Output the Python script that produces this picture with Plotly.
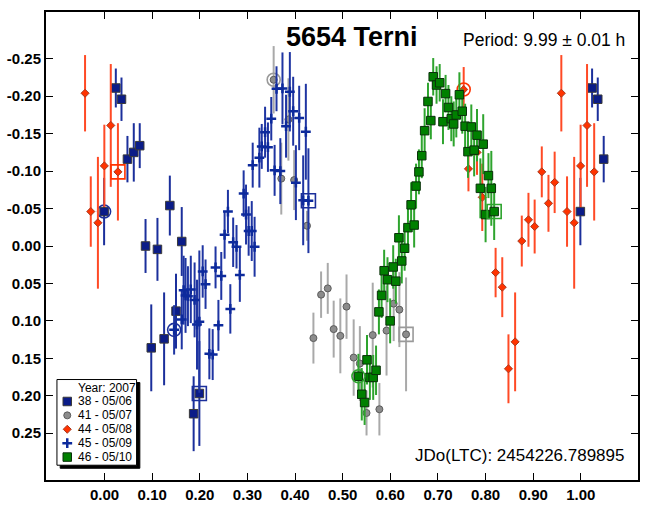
import plotly.graph_objects as go

# ---------------- data (phase, reduced magnitude, error) ----------------
# first entry of each session = first point of the night (circled), last = last point (boxed)
s38_phase = [-0.001, 0.0236, 0.0355, 0.048, 0.0613, 0.0738, 0.086, 0.098, 0.111, 0.125, 0.137, 0.150, 0.162, 0.187, 0.199]
s38_mag   = [-0.046, -0.211, -0.196, -0.116, -0.125, -0.134, 0.000, 0.136, 0.0045, 0.124, -0.054, 0.087, -0.006, 0.224, 0.197]
s38_err   = [0.045, 0.026, 0.029, 0.031, 0.039, 0.030, 0.036, 0.058, 0.042, 0.062, 0.040, 0.050, 0.046, 0.050, 0.070]

s41_phase = [0.355, 0.371, 0.386, 0.398, 0.425, 0.4385, 0.4546, 0.4686, 0.481, 0.495, 0.508, 0.523, 0.536, 0.550, 0.563, 0.577, 0.592, 0.607, 0.619, 0.633]
s41_mag   = [-0.222, -0.090, -0.169, -0.088, -0.027, 0.123, 0.065, 0.0566, 0.111, 0.120, 0.081, 0.149, 0.157, 0.223, 0.119, 0.218, 0.113, 0.077, 0.085, 0.118]
s41_err   = [0.045, 0.048, 0.055, 0.040, 0.020, 0.034, 0.031, 0.034, 0.038, 0.050, 0.043, 0.051, 0.050, 0.030, 0.070, 0.035, 0.060, 0.050, 0.050, 0.076]

s44_phase = [0.754, 0.764, 0.782, 0.793, 0.821, 0.835, 0.848, 0.862, 0.876, 0.890, 0.903, 0.918, 0.932, 0.945, 0.959, 0.971, 0.986, 0.9995, 0.013, 0.028]
s44_mag   = [-0.209, -0.103, -0.125, -0.065, 0.0355, 0.055, 0.164, 0.128, -0.0066, -0.035, -0.026, -0.099, -0.057, -0.085, -0.204, -0.046, -0.031, -0.107, -0.161, -0.099]
s44_err   = [0.030, 0.030, 0.030, 0.045, 0.033, 0.040, 0.046, 0.066, 0.034, 0.036, 0.036, 0.034, 0.038, 0.041, 0.051, 0.047, 0.088, 0.055, 0.082, 0.065]

s45_phase = [0.146, 0.162, 0.166, 0.170, 0.175, 0.181, 0.189, 0.194, 0.199, 0.206, 0.212, 0.220, 0.227, 0.233, 0.239, 0.245,
             0.252, 0.259, 0.264, 0.270, 0.277, 0.284, 0.292, 0.297, 0.3025, 0.309, 0.311, 0.315, 0.325, 0.330, 0.337,
             0.343, 0.350, 0.357, 0.361, 0.369, 0.3735, 0.381, 0.389, 0.396, 0.4017, 0.4086, 0.417, 0.4226, 0.428]
s45_mag   = [0.112, 0.098, 0.059, 0.066, 0.067, 0.058, 0.072, 0.105, 0.101, 0.034, 0.051, 0.144, 0.145, 0.0286, 0.106, 0.040,
             -0.015, -0.046, 0.084, -0.005, 0.001, 0.0386, -0.070, -0.042, -0.020, -0.020, -0.108, 0.001, -0.118, -0.133, -0.152,
             -0.132, -0.170, -0.101, -0.210, -0.100, -0.2105, -0.160, -0.206, -0.180, -0.0846, -0.171, -0.061, -0.1526, -0.0605]
s45_err   = [0.033, 0.040, 0.046, 0.050, 0.040, 0.045, 0.050, 0.060, 0.095, 0.035, 0.033, 0.034, 0.034, 0.028, 0.034, 0.032,
             0.032, 0.029, 0.033, 0.033, 0.029, 0.036, 0.031, 0.040, 0.033, 0.040, 0.030, 0.040, 0.040, 0.030, 0.034,
             0.033, 0.029, 0.034, 0.030, 0.044, 0.048, 0.042, 0.053, 0.046, 0.050, 0.043, 0.060, 0.064, 0.070]

s46_phase = [0.533, 0.540, 0.546, 0.551, 0.557, 0.564, 0.570, 0.576, 0.5816, 0.587, 0.594, 0.5996, 0.606, 0.6115, 0.618, 0.624,
             0.630, 0.637, 0.6436, 0.650, 0.654, 0.660, 0.666, 0.672, 0.679, 0.685, 0.690, 0.697, 0.7036, 0.7105, 0.716,
             0.722, 0.728, 0.733, 0.7385, 0.745, 0.751, 0.757, 0.763, 0.770, 0.776, 0.782, 0.789, 0.795, 0.800, 0.806, 0.812, 0.818]
s46_mag   = [0.174, 0.198, 0.209, 0.152, 0.1755, 0.1755, 0.166, 0.088, 0.066, 0.033, 0.045, 0.100, 0.028, 0.047, -0.011, 0.020,
             0.003, -0.0245, -0.055, -0.028, -0.080, -0.099, -0.1206, -0.154, -0.193, -0.1675, -0.226, -0.215, -0.218, -0.166, -0.2035,
             -0.185, -0.170, -0.163, -0.175, -0.202, -0.180, -0.160, -0.126, -0.159, -0.128, -0.148, -0.077, -0.136, -0.042, -0.094, -0.077, -0.046]
s46_err   = [0.030, 0.035, 0.030, 0.033, 0.030, 0.030, 0.033, 0.030, 0.030, 0.028, 0.030, 0.030, 0.029, 0.030, 0.030, 0.030,
             0.030, 0.030, 0.030, 0.030, 0.030, 0.030, 0.030, 0.030, 0.025, 0.025, 0.025, 0.025, 0.025, 0.030, 0.025,
             0.030, 0.030, 0.030, 0.030, 0.030, 0.030, 0.030, 0.035, 0.030, 0.035, 0.035, 0.040, 0.040, 0.037, 0.030, 0.050, 0.038]

legend_labels = ["38 - 05/06", "41 - 05/07", "44 - 05/08", "45 - 05/09", "46 - 05/10"]
legend_title = "Year: 2007"
x_tickvals = [0.0, 0.1, 0.2, 0.3, 0.4, 0.5, 0.6, 0.7, 0.8, 0.9, 1.0]
x_ticktext = ["0.00", "0.10", "0.20", "0.30", "0.40", "0.50", "0.60", "0.70", "0.80", "0.90", "1.00"]
y_tickvals = [-0.25, -0.20, -0.15, -0.10, -0.05, 0.0, 0.05, 0.10, 0.15, 0.20, 0.25]
y_ticktext = ["-0.25", "-0.20", "-0.15", "-0.10", "-0.05", "0.00", "0.05", "0.10", "0.15", "0.20", "0.25"]
title_text = "5654 Terni"
period_text = "Period: 9.99 ± 0.01 h"
epoch_text = "JDo(LTC): 2454226.789895"

# ---------------- styles ----------------
FONT = "Liberation Sans, Arial, sans-serif"
styles = [
    dict(symbol="square", size=8.5, color="#0b1c88", line=dict(color="#3a3a3a", width=1), err="#1b2f9b", ring="#1b2f9b"),
    dict(symbol="circle", size=7, color="#8c8c8c", line=dict(color="#5c5c5c", width=1), err="#a9a9a9", ring="#9a9a9a"),
    dict(symbol="diamond", size=6.2, color="#ff3300", line=dict(color="#a83a20", width=1), err="#ff4a25", ring="#ff3300"),
    dict(symbol="cross-thin", size=7, color="#0d2a9c", line=dict(color="#0d2a9c", width=2.5), err="#1f35a2", ring="#1b2f9b"),
    dict(symbol="square", size=8.5, color="#008000", line=dict(color="#0a300a", width=1), err="#2ea42e", ring="#2ea42e"),
]
series = [(s38_phase, s38_mag, s38_err), (s41_phase, s41_mag, s41_err), (s44_phase, s44_mag, s44_err),
          (s45_phase, s45_mag, s45_err), (s46_phase, s46_mag, s46_err)]


def wrap(ph, mg, er):
    xs, ys, es = list(ph), list(mg), list(er)
    for p, m, e in zip(ph, mg, er):
        if p < 0.05:
            xs.append(p + 1); ys.append(m); es.append(e)
        elif p > 0.95:
            xs.append(p - 1); ys.append(m); es.append(e)
    return xs, ys, es


fig = go.Figure()
for (ph, mg, er), st in zip(series, styles):
    xs, ys, es = wrap(ph, mg, er)
    fig.add_trace(go.Scatter(
        x=xs, y=ys, mode="markers", showlegend=False,
        marker=dict(symbol=st["symbol"], size=st["size"], color=st["color"], line=st["line"]),
        error_y=dict(type="data", array=es, visible=True, color=st["err"], thickness=2, width=0),
    ))
    # start-of-session circle and end-of-session square
    fig.add_trace(go.Scatter(x=[ph[0]], y=[mg[0]], mode="markers", showlegend=False,
                             marker=dict(symbol="circle-open", size=13, color=st["ring"], line=dict(width=1.6))))
    fig.add_trace(go.Scatter(x=[ph[-1]], y=[mg[-1]], mode="markers", showlegend=False,
                             marker=dict(symbol="square-open", size=14, color=st["ring"], line=dict(width=1.6))))

# ---------------- hand-made legend box ----------------
box_x0, box_x1, box_y0, box_y1 = 0.0185, 0.153, 0.0316, 0.2147   # paper fractions of plot area
shadow_dx, shadow_dy = 0.0055, 0.0065
row_top, row_step = 0.1678, 0.0297
marker_x, text_x = 0.0359, 0.0500

fig.add_shape(type="rect", xref="paper", yref="paper", layer="below",
              x0=box_x0 + shadow_dx, x1=box_x1 + shadow_dx, y0=box_y0 - shadow_dy, y1=box_y1 - shadow_dy,
              fillcolor="black", line=dict(color="black", width=1))
fig.add_shape(type="rect", xref="paper", yref="paper", layer="below",
              x0=box_x0, x1=box_x1, y0=box_y0, y1=box_y1,
              fillcolor="white", line=dict(color="black", width=1))
fig.add_annotation(xref="paper", yref="paper", x=text_x, y=row_top + row_step, text=legend_title,
                   showarrow=False, xanchor="left", yanchor="middle",
                   font=dict(family=FONT, size=12, color="black"))
for i, (lab, st) in enumerate(zip(legend_labels, styles)):
    yy = row_top - i * row_step
    fig.add_trace(go.Scatter(x=[marker_x], y=[yy], xaxis="x2", yaxis="y2", mode="markers", showlegend=False,
                             marker=dict(symbol=st["symbol"], size=st["size"], color=st["color"], line=st["line"])))
    fig.add_annotation(xref="paper", yref="paper", x=text_x, y=yy, text=lab, showarrow=False,
                       xanchor="left", yanchor="middle", font=dict(family=FONT, size=12, color="black"))

# ---------------- texts ----------------
fig.add_annotation(xref="paper", yref="paper", x=0.517, y=0.947, text="<b>%s</b>" % title_text, showarrow=False,
                   xanchor="center", yanchor="middle", font=dict(family=FONT, size=27, color="black"))
fig.add_annotation(xref="paper", yref="paper", x=0.981, y=0.941, text=period_text, showarrow=False,
                   xanchor="right", yanchor="middle", font=dict(family=FONT, size=17.5, color="black"))
fig.add_annotation(xref="paper", yref="paper", x=0.981, y=0.053, text=epoch_text, showarrow=False,
                   xanchor="right", yanchor="middle", font=dict(family=FONT, size=17, color="black"))

axis_common = dict(showgrid=False, zeroline=False, showline=True, linewidth=2, linecolor="black",
                   mirror="ticks", ticks="inside", ticklen=7, tickwidth=1.3, tickcolor="black",
                   tickfont=dict(family=FONT, size=15, color="black", weight="bold"))
fig.update_layout(
    width=645, height=508,
    margin=dict(l=46, r=5, t=12, b=21),
    paper_bgcolor="white", plot_bgcolor="white",
    showlegend=False,
    xaxis=dict(range=[-0.123, 1.12], tickvals=x_tickvals, ticktext=x_ticktext, **axis_common),
    yaxis=dict(range=[0.3125, -0.3125], tickvals=y_tickvals, ticktext=y_ticktext, **axis_common),
    xaxis2=dict(overlaying="x", anchor="y2", range=[0, 1], visible=False),
    yaxis2=dict(overlaying="y", anchor="x2", range=[0, 1], visible=False),
)

fig.write_html("out.html")
